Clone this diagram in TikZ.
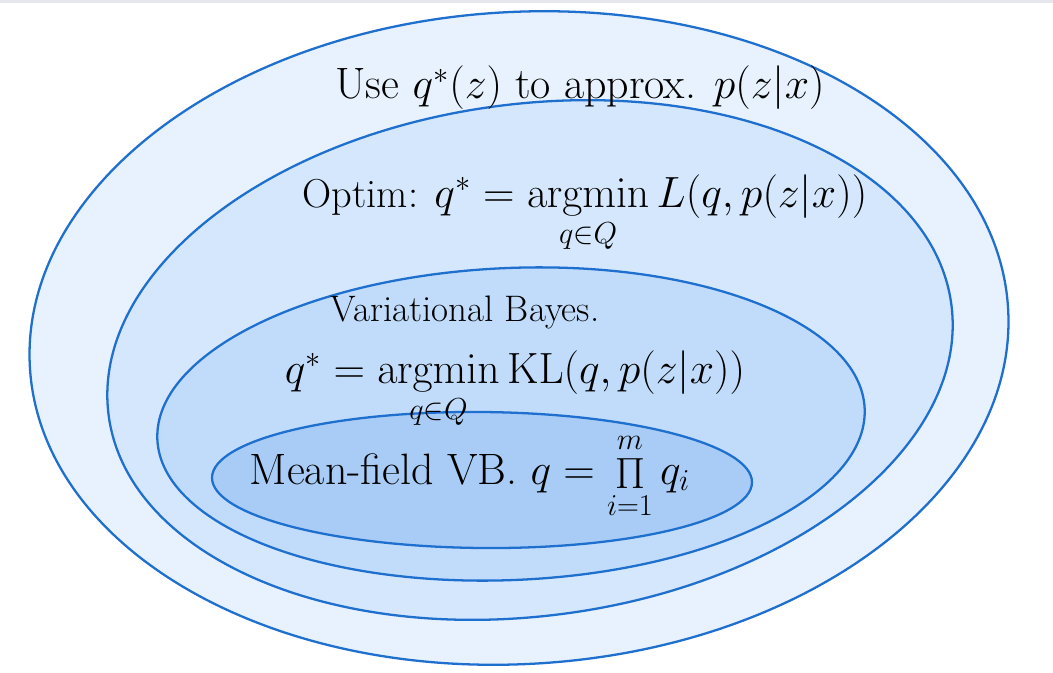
\documentclass[tikz,border=0pt]{standalone}
\usepackage{amsmath}
\definecolor{fillA}{HTML}{E7F2FE}
\definecolor{fillB}{HTML}{D4E7FC}
\definecolor{fillC}{HTML}{C0DCFA}
\definecolor{fillD}{HTML}{A8CCF6}
\definecolor{rim}{HTML}{1F6FCF}
\definecolor{topband}{HTML}{E4E7EC}
\tikzset{
  ring/.style={draw=rim, line width=1.3pt},
  hand/.style={font=\fontsize{25}{30}\selectfont, inner sep=0pt, text=black},
}
\begin{document}
\begin{tikzpicture}[x=0.02cm, y=-0.02cm]
\useasboundingbox (0,0) rectangle (1053,672);
\fill[white] (0,0) rectangle (1053,672);
\fill[topband] (0,0) rectangle (1053,3);
% nested sets
\draw[ring, fill=fillA, rotate around={3.5:(519,338)}] (519,338) ellipse (490 and 326);
\draw[ring, fill=fillB, rotate around={7.5:(530,360)}] (530,360) ellipse (425 and 256);
\draw[ring, fill=fillC, rotate around={2.5:(511,424)}] (511,424) ellipse (354 and 156);
\draw[ring, fill=fillD, rotate around={-0.5:(482,480)}] (482,480) ellipse (270 and 68);
% labels
\node[hand] (use) at (580,88) {Use $q^*(z)$ to approx. $p(z|x)$};
\node[hand, anchor=base, font=\fontsize{23}{28}\selectfont] (optim) at (585,207) {Optim: $q^* = \operatorname*{argmin}\limits_{q\in Q} L(q, p(z|x))$};
\node[hand, font=\fontsize{21}{26}\selectfont] (vb) at (465,312) {Variational Bayes.};
\node[hand, anchor=base] (kl) at (515,383) {$q^* = \operatorname*{argmin}\limits_{q\in Q} \mathrm{KL}(q, p(z|x))$};
\node[hand, anchor=base] (mf) at (470,484) {Mean-field VB.\ $q = \mathop{\Pi}\limits_{i=1}^{m} q_i$};
\end{tikzpicture}
\end{document}
